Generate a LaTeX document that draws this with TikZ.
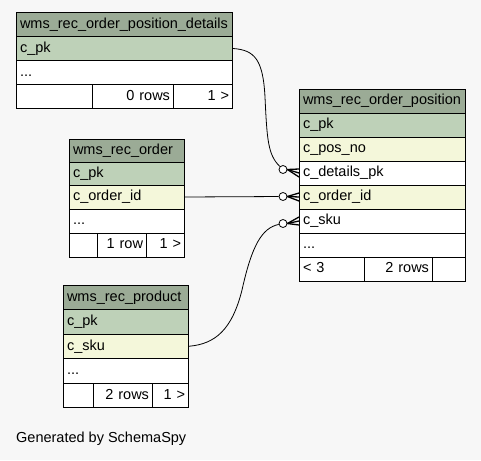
\documentclass[tikz,border=0pt]{standalone}
\usepackage{fontspec}
\setmainfont{Liberation Sans}
\definecolor{bgc}{HTML}{F7F7F7}
\definecolor{hdr}{HTML}{9BAB96}
\definecolor{pkc}{HTML}{BED1B8}
\definecolor{idx}{HTML}{F4F7DA}
\newcommand\tabfont{\fontsize{14.5}{17}\selectfont}
% \tcell{style}{name}{x}{y}{width}{height}{text}
\newcommand\tcell[7]{%
  \pgfmathsetmacro\cellTW{#5-7}%
  \node[#1, minimum width=#5pt, minimum height=#6pt, text width=\cellTW pt] (#2) at (#3,#4) {#7};}
\begin{document}
\begin{tikzpicture}[x=1pt, y=-1pt,
  cell/.style={draw=black, line width=1pt, anchor=north west, inner xsep=3.5pt, inner ysep=0pt,
    text height=10.5pt, text depth=3pt, font=\tabfont, align=left},
  head/.style={cell, fill=hdr},
  pkey/.style={cell, fill=pkc},
  ikey/.style={cell, fill=idx},
  plain/.style={cell, fill=white},
  num/.style={cell, fill=white, align=right},
  conn/.style={draw=black, line width=0.8pt},
  ring/.style={circle, draw=black, line width=0.8pt, fill=white, minimum size=8pt, inner sep=0pt},
  crow/.style={draw=black, line width=1.3pt}]
\fill[bgc] (0,0) rectangle (481,460);
\useasboundingbox (0,0) rectangle (481,460);

% wms_rec_order_position_details
\tcell{head}{dh}{16}{12}{216}{24}{wms\_rec\_order\_position\_details}
\tcell{pkey}{dpk}{16}{36}{216}{24}{c\_pk}
\tcell{plain}{dmore}{16}{60}{216}{24}{...}
\tcell{plain}{df1}{16}{84}{76}{24}{}
\tcell{num}{df2}{92}{84}{81}{24}{0 rows}
\tcell{num}{df3}{173}{84}{59}{24}{1 >}

% wms_rec_order_position
\tcell{head}{ph}{299}{88.5}{166}{24}{wms\_rec\_order\_position}
\tcell{pkey}{ppk}{299}{112.5}{166}{24}{c\_pk}
\tcell{ikey}{ppos}{299}{136.5}{166}{24}{c\_pos\_no}
\tcell{plain}{pdet}{299}{160.5}{166}{24}{c\_details\_pk}
\tcell{ikey}{poid}{299}{184.5}{166}{24}{c\_order\_id}
\tcell{plain}{psku}{299}{208.5}{166}{24}{c\_sku}
\tcell{plain}{pmore}{299}{232.5}{166}{24}{...}
\tcell{plain}{pf1}{299}{256.5}{65}{24}{< 3}
\tcell{num}{pf2}{364}{256.5}{68}{24}{2 rows}
\tcell{plain}{pf3}{432}{256.5}{33}{24}{}

% wms_rec_order
\tcell{head}{oh}{69}{138.5}{115}{23.5}{wms\_rec\_order}
\tcell{pkey}{opk}{69}{162}{115}{22.5}{c\_pk}
\tcell{ikey}{ooid}{69}{184.5}{115}{24}{c\_order\_id}
\tcell{plain}{omore}{69}{208.5}{115}{24}{...}
\tcell{plain}{of1}{69}{232.5}{28}{24}{}
\tcell{num}{of2}{97}{232.5}{49}{24}{1 row}
\tcell{num}{of3}{146}{232.5}{38}{24}{1 >}

% wms_rec_product
\tcell{head}{rh}{63}{284.5}{125}{24.5}{wms\_rec\_product}
\tcell{pkey}{rpk}{63}{309}{125}{24.5}{c\_pk}
\tcell{ikey}{rsku}{63}{333.5}{125}{24.5}{c\_sku}
\tcell{plain}{rmore}{63}{358}{125}{24.5}{...}
\tcell{plain}{rf1}{63}{382.5}{30}{24.5}{}
\tcell{num}{rf2}{93}{382.5}{59}{24.5}{2 rows}
\tcell{num}{rf3}{152}{382.5}{36}{24.5}{1 >}

% optional-many ends at the referencing columns
\node[ring] (o1) at (283,169.5) {};
\node[ring] (o2) at (283,196.5) {};
\node[ring] (o3) at (283,223.5) {};
\foreach \o/\c in {o1/pdet, o2/poid, o3/psku} {
  \draw[crow] (\o.east) -- ([yshift=4pt]\c.west);
  \draw[crow] (\o.east) -- (\c.west);
  \draw[crow] (\o.east) -- ([yshift=-4pt]\c.west);
}

% relationships
\draw[conn] (dpk.east) .. controls (255,50) and (263,60) .. (265,97)
  .. controls (267,140) and (268,155) .. (o1);
\draw[conn] (ooid.east) -- (o2);
\draw[conn] (rsku.east) .. controls (215,344) and (232,330) .. (242,290)
  .. controls (252,245) and (262,228) .. (o3);

\node[anchor=west, font=\tabfont, inner sep=0pt] (gen) at (16,439) {Generated by SchemaSpy};
\end{tikzpicture}
\end{document}
